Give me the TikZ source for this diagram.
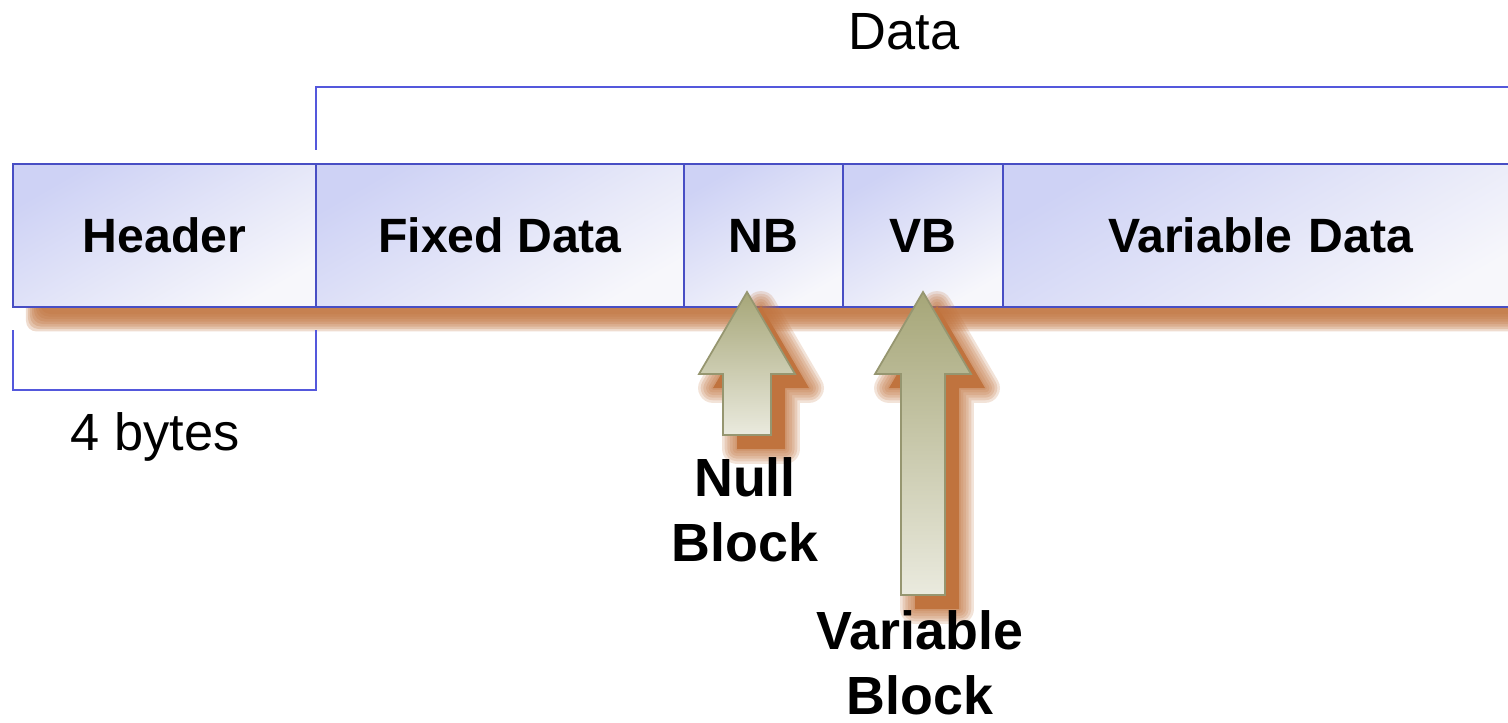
\documentclass[tikz,border=0pt]{standalone}
\usepackage{fontspec}
\setmainfont{Liberation Sans}
\usetikzlibrary{positioning,calc}
\definecolor{boxline}{RGB}{72,78,196}
\definecolor{boxtop}{RGB}{206,210,245}
\definecolor{boxbot}{RGB}{247,247,251}
\definecolor{bracecolor}{RGB}{84,88,220}
\definecolor{shadowcolor}{RGB}{192,115,62}
\definecolor{arrowtop}{RGB}{166,166,120}
\definecolor{arrowbot}{RGB}{234,234,222}
\definecolor{arrowline}{RGB}{150,150,112}
% block arrow pointing up: tip, length, head half width, shaft half width
\newcommand{\uparrowpath}[4]{(#1) -- ++(-#3,-0.82) -- ++(#3-#4,0) -- ++(0,-#2+0.82) -- ++(2*#4,0) -- ++(0,#2-0.82) -- ++(#3-#4,0) -- cycle}

\begin{document}
\begin{tikzpicture}[
    field/.style={draw=boxline, line width=0.6pt, top color=boxtop, bottom color=boxbot, shading angle=30,
      minimum height=1.43cm, inner sep=0pt, outer sep=0pt, font=\bfseries\fontsize{13.7}{16}\selectfont},
    bracket/.style={draw=bracecolor, line width=0.6pt},
    plainlabel/.style={font=\fontsize{14.9}{18}\selectfont, anchor=base},
    blocklabel/.style={align=center, font=\bfseries\fontsize{15.3}{18.5}\selectfont},
    arrowbody/.style={draw=arrowline, line width=0.5pt, top color=arrowtop, bottom color=arrowbot},
    arrowshadow/.style={draw=shadowcolor, opacity=0.2, line join=round}
  ]
    \clip (0,0) rectangle (15.08,-7.22);
    % Soft shadow under the record row
    \foreach \d in {0,...,7} {
      \fill[shadowcolor, opacity=0.25, rounded corners=3pt] (0.40-\d*0.02, -2.9) rectangle (15.4, -3.14-\d*0.025);
    }
    % Record fields
    \node[field, minimum width=3.03cm, anchor=north west] (header) at (0.13,-1.64) {Header};
    \node[field, minimum width=3.68cm, right=0pt of header] (fixed) {Fixed Data};
    \node[field, minimum width=1.59cm, right=0pt of fixed] (nb) {NB};
    \node[field, minimum width=1.60cm, right=0pt of nb] (vb) {VB};
    \node[field, minimum width=5.20cm, right=0pt of vb, text width=5.20cm, align=left] (var) {\hspace*{1.05cm}Variable Data};
    % Brackets and their labels
    \draw[bracket] ([yshift=0.14cm]fixed.north west) |- (15.3,-0.87);
    \node[plainlabel] (datalbl) at (9.04,-0.50) {Data};
    \draw[bracket] ([yshift=-0.23cm]header.south west) -- ++(0,-0.60) -| ([yshift=-0.23cm]header.south east);
    \node[plainlabel] (byteslbl) at (1.55,-4.50) {4 bytes};
    % Pointer arrows
    \coordinate (nbtip) at (7.47,-2.92);
    \coordinate (vbtip) at (9.23,-2.92);
    \fill[shadowcolor] \uparrowpath{$(nbtip)+(0.14,-0.14)$}{1.43}{0.48}{0.24};
    \fill[shadowcolor] \uparrowpath{$(vbtip)+(0.14,-0.14)$}{3.03}{0.48}{0.22};
    \foreach \w in {1,2.5,4,5.5,7,8.5} {
      \draw[arrowshadow, line width=\w pt] \uparrowpath{$(nbtip)+(0.14,-0.14)$}{1.43}{0.48}{0.24};
      \draw[arrowshadow, line width=\w pt] \uparrowpath{$(vbtip)+(0.14,-0.14)$}{3.03}{0.48}{0.22};
    }
    \draw[arrowbody] \uparrowpath{nbtip}{1.43}{0.48}{0.24};
    \draw[arrowbody] \uparrowpath{vbtip}{3.03}{0.48}{0.22};
    \node[blocklabel] (nulllbl) at (7.45,-5.10) {Null\\Block};
    \node[blocklabel] (varlbl) at (9.20,-6.63) {Variable\\Block};
  \end{tikzpicture}
\end{document}
